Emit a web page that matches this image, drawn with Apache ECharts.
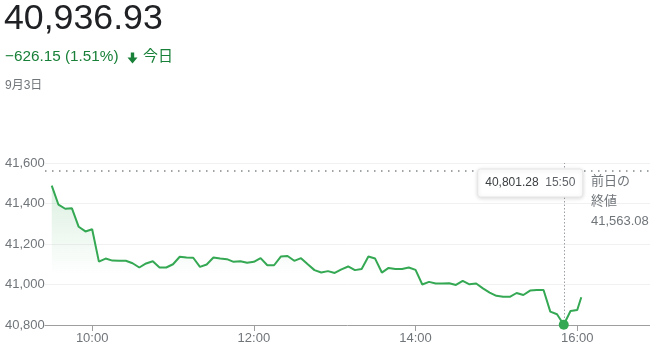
<!DOCTYPE html>
<html>
<head>
<meta charset="utf-8">
<script src="https://cdn.jsdelivr.net/npm/echarts@6/dist/echarts.min.js"></script>
<style>
  html, body { margin: 0; padding: 0; background: #fff; }
  #chart { width: 650px; height: 351px; }
</style>
</head>
<body>
<div id="chart"></div>
<script>
// 取引時刻（5分足）と値
var times = [
  '9:30','9:35','9:40','9:45','9:50','9:55',
  '10:00','10:05','10:10','10:15','10:20','10:25','10:30','10:35','10:40','10:45','10:50','10:55',
  '11:00','11:05','11:10','11:15','11:20','11:25','11:30','11:35','11:40','11:45','11:50','11:55',
  '12:00','12:05','12:10','12:15','12:20','12:25','12:30','12:35','12:40','12:45','12:50','12:55',
  '13:00','13:05','13:10','13:15','13:20','13:25','13:30','13:35','13:40','13:45','13:50','13:55',
  '14:00','14:05','14:10','14:15','14:20','14:25','14:30','14:35','14:40','14:45','14:50','14:55',
  '15:00','15:05','15:10','15:15','15:20','15:25','15:30','15:35','15:40','15:45','15:50','15:55',
  '16:00','16:03'
];
var values = [
  41488, 41394, 41374, 41376, 41285, 41262,
  41273, 41113, 41128, 41118, 41117, 41117, 41105, 41084, 41104, 41115, 41084, 41084,
  41100, 41137, 41133, 41132, 41087, 41099, 41133, 41128, 41125, 41112, 41115, 41107,
  41112, 41130, 41095, 41095, 41138, 41141, 41117, 41130, 41100, 41071, 41059, 41066,
  41057, 41075, 41089, 41071, 41077, 41138, 41128, 41059, 41082, 41077, 41077, 41084,
  41072, 41000, 41013, 41005, 41005, 41006, 40998, 41018, 41001, 41005, 40981, 40960,
  40944, 40939, 40939, 40958, 40948, 40970, 40973, 40973, 40866, 40853, 40801.28, 40869,
  40874, 40936.93
];
var xTicks = ['10:00', '12:00', '14:00', '16:00'];
var yTicks = [40800, 41000, 41200, 41400, 41600];
var prevClose = 41563.08;
var hoverTime = '15:50';
var lastValue = 40936.93;
var change = -626.15;
var changePct = 1.51;
var dateLabel = '9月3日';

function toMin(t) {
  var p = t.split(':');
  return (+p[0]) * 60 + (+p[1]);
}
function fmtMin(m) {
  var h = Math.floor(m / 60), mm = m % 60;
  return h + ':' + (mm < 10 ? '0' : '') + mm;
}
function fmtNum(v) {
  return v.toLocaleString('en-US', { minimumFractionDigits: 2, maximumFractionDigits: 2 });
}

var seriesData = times.map(function (t, i) { return [toMin(t), values[i]]; });
var hoverIdx = times.indexOf(hoverTime);
var hoverPoint = seriesData[hoverIdx];

var font = "'Liberation Sans', Arial, 'Noto Sans CJK JP', sans-serif";
var green = '#34a853';
var down = '#188038';
var gray = '#70757a';

var myChart = echarts.init(document.getElementById('chart'));
var option = {
  animation: false,
  grid: { left: 45, right: 0, top: 163, bottom: 26 },
  xAxis: {
    type: 'value',
    min: toMin('9:25'),
    max: toMin('16:54'),
    axisLine: { show: true, lineStyle: { color: '#9e9e9e', width: 1 } },
    axisTick: {
      show: true,
      length: 6,
      customValues: xTicks.map(toMin),
      lineStyle: { color: '#9e9e9e' }
    },
    axisLabel: {
      customValues: xTicks.map(toMin),
      formatter: function (v) { return fmtMin(v); },
      color: gray,
      fontFamily: font,
      fontSize: 13,
      margin: 7
    },
    splitLine: { show: false }
  },
  yAxis: {
    type: 'value',
    min: yTicks[0],
    max: yTicks[yTicks.length - 1],
    interval: 200,
    axisLine: { show: false },
    axisTick: { show: false },
    axisLabel: {
      color: gray,
      fontFamily: font,
      fontSize: 13,
      align: 'left',
      margin: 40,
      formatter: function (v) { return v.toLocaleString('en-US'); }
    },
    splitLine: { lineStyle: { color: '#f1f1f1', width: 1 } }
  },
  series: [
    {
      type: 'line',
      data: seriesData,
      showSymbol: false,
      lineStyle: { color: green, width: 2 },
      itemStyle: { color: green },
      areaStyle: {
        color: new echarts.graphic.LinearGradient(0, 0, 0, 1, [
          { offset: 0, color: 'rgba(52,168,83,0.25)' },
          { offset: 0.65, color: 'rgba(52,168,83,0)' }
        ])
      },
      markLine: {
        silent: true,
        symbol: 'none',
        label: { show: false },
        data: [
          { yAxis: prevClose, lineStyle: { color: '#80868b', type: [1.5, 5.5], width: 1.5 } },
          { xAxis: hoverPoint[0], lineStyle: { color: '#9aa0a6', type: [1.5, 2], width: 1 } }
        ]
      },
      markPoint: {
        silent: true,
        symbol: 'circle',
        symbolSize: 10,
        itemStyle: { color: green },
        label: { show: false },
        data: [{ coord: hoverPoint }]
      }
    }
  ]
};
myChart.setOption(option);

// ヘッダーと注釈
var hoverPx = myChart.convertToPixel({ gridIndex: 0 }, hoverPoint);
var closePx = myChart.convertToPixel({ gridIndex: 0 }, [toMin('16:00'), prevClose]);
var boxW = 105, boxH = 28;
myChart.setOption({
  graphic: [
    {
      type: 'text', left: 4, top: 1,
      style: { text: fmtNum(lastValue), font: '35.7px ' + font, fill: '#202124' }
    },
    {
      type: 'text', left: 5, top: 49,
      style: {
        text: '\u2212' + fmtNum(-change) + ' (' + changePct.toFixed(2) + '%)',
        font: '15.3px ' + font, fill: down
      }
    },
    {
      // 下向き矢印
      type: 'polygon',
      shape: { points: [[130.8, 52.5], [134.2, 52.5], [134.2, 57.5], [137.5, 57.5],
                        [132.5, 63.5], [127.5, 57.5], [130.8, 57.5]] },
      style: { fill: down }
    },
    {
      type: 'text', left: 143, top: 49,
      style: { text: '今日', font: '15px ' + font, fill: down }
    },
    {
      type: 'text', left: 5, top: 80,
      style: { text: dateLabel, font: '12px ' + font, fill: gray }
    },
    {
      type: 'rect', z: 100,
      shape: { x: hoverPx[0] - 86, y: 169, width: boxW, height: boxH, r: 3 },
      style: { fill: '#fff', stroke: '#e6e6e6', lineWidth: 1,
               shadowBlur: 4, shadowColor: 'rgba(0,0,0,0.15)', shadowOffsetY: 1 }
    },
    {
      type: 'text', z: 101,
      x: hoverPx[0] - 86 + boxW / 2, y: 169 + boxH / 2,
      style: {
        text: '{v|' + fmtNum(hoverPoint[1]) + '}  {t|' + hoverTime + '}',
        align: 'center', verticalAlign: 'middle',
        rich: {
          v: { font: '12px ' + font, fill: '#3c4043' },
          t: { font: '12px ' + font, fill: '#5f6368' }
        }
      }
    },
    {
      type: 'text', x: 591, y: closePx[1] + 1,
      style: {
        text: '前日の\n終値\n' + fmtNum(prevClose),
        font: '13px ' + font, fill: gray, lineHeight: 20, verticalAlign: 'top'
      }
    }
  ]
});

window.addEventListener('resize', function () {
  myChart.resize();
});
</script>
</body>
</html>
